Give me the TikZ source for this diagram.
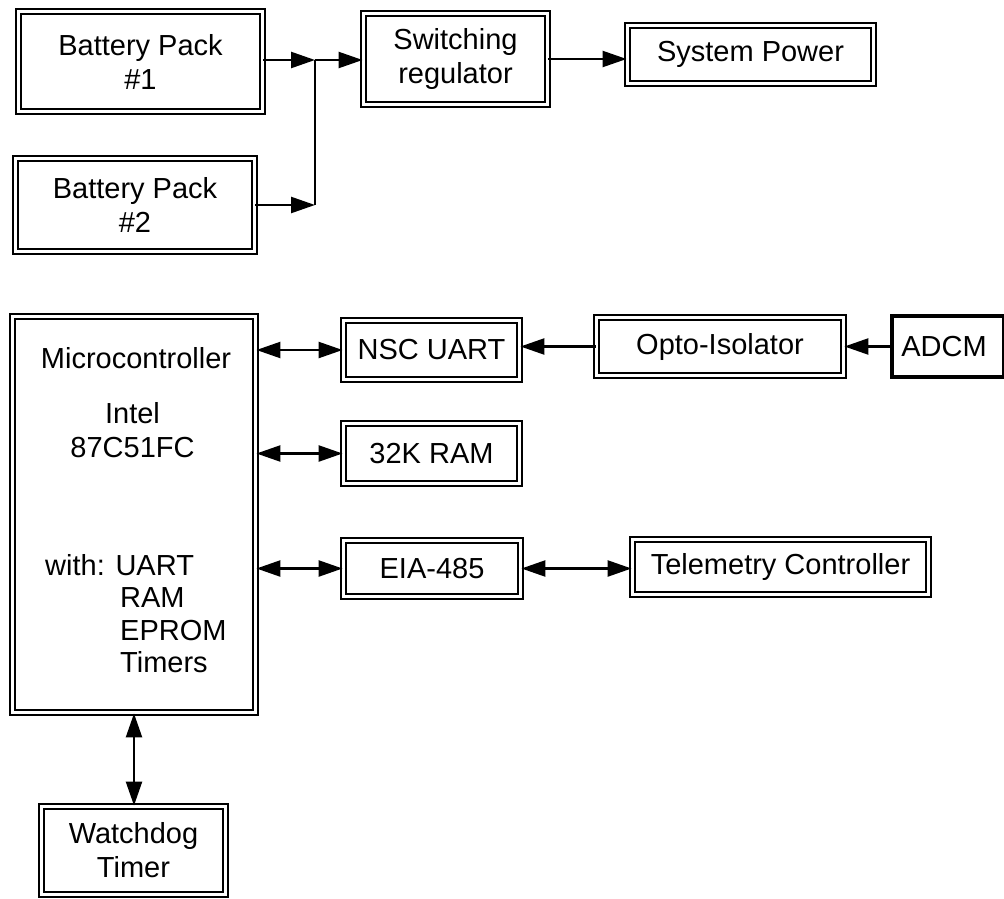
\documentclass[tikz,border=0pt]{standalone}
\usepackage{fontspec}
\setmainfont{Liberation Sans}
\usetikzlibrary{arrows.meta}
\newcommand\blockfont{\fontsize{29}{34}\selectfont}

\begin{document}
\begin{tikzpicture}[x=1pt,y=-1pt,
  box/.style={draw,double,double distance=3.2pt,line width=1.9pt,inner sep=0pt,align=center,font=\blockfont},
  heavybox/.style={draw,line width=4.5pt,inner sep=0pt,align=center,font=\blockfont},
  txt/.style={inner sep=0pt,font=\blockfont},
  link/.style={line width=2.4pt},
  >={Triangle[length=24pt,width=16pt]}]
  \useasboundingbox (0,0) rectangle (1004,899);
  % power section
  \node[box,minimum width=244pt,minimum height=100pt] (bp1) at (140.5,61.5) {Battery Pack\\\#1};
  \node[box,minimum width=239pt,minimum height=93pt] (bp2) at (135,205) {Battery Pack\\\#2};
  \node[box,minimum width=184pt,minimum height=91pt] (sw) at (455.5,59) {Switching\\regulator};
  \node[box,minimum width=246pt,minimum height=58pt] (sys) at (750.5,54.5) {System Power};
  \coordinate (jtop) at (315,60);
  \coordinate (jbot) at (bp2.east -| jtop);
  \draw[link,->] (bp1.east |- jtop) -- (jtop);
  \draw[link,->] (bp2.east) -- (jbot);
  \draw[link] (jtop) -- (jbot);
  \draw[link,->] (jtop) -- (jtop -| sw.west);
  \draw[link,->] (sw.east) -- (sw.east -| sys.west);
  % controller section
  \node[box,minimum width=243pt,minimum height=396pt] (mc) at (134,514.5) {};
  \node[txt,anchor=base] (mcname) at (136,368) {Microcontroller};
  \node[txt,anchor=base] (mcchip) at (132.5,423) {Intel};
  \node[txt,anchor=base] (mcpart) at (132.5,457) {87C51FC};
  \node[txt,anchor=base west] (mcwith) at (45,575) {with: UART};
  \foreach \n/\t/\y in {mcram/RAM/607,mcrom/EPROM/640,mctim/Timers/672}
    \node[txt,anchor=base west] (\n) at (120,\y) {\t};
  \node[box,minimum width=176pt,minimum height=59pt] (uart) at (431.5,350) {NSC UART};
  \node[box,minimum width=247pt,minimum height=58pt] (opto) at (720,346.5) {Opto-Isolator};
  \node[heavybox,minimum width=112pt,minimum height=61pt] (adcm) at (948,346.5) {ADCM\hspace*{8pt}};
  \node[box,minimum width=176pt,minimum height=60pt] (ram) at (431.5,453.5) {32K RAM};
  \node[box,minimum width=177pt,minimum height=56pt] (eia) at (432,568.5) {EIA-485};
  \node[box,minimum width=296pt,minimum height=55pt] (tel) at (780.5,567) {Telemetry Controller};
  \node[box,minimum width=184pt,minimum height=88pt] (wd) at (133.5,850.5) {Watchdog\\Timer};
  \draw[link,<->] (uart.west -| mc.east) -- (uart.west);
  \draw[link,<-] (opto.west -| uart.east) -- (opto.west);
  \draw[link,<-] (opto.east) -- (adcm.west);
  \draw[link,<->] (ram.west -| mc.east) -- (ram.west);
  \draw[link,<->] (eia.west -| mc.east) -- (eia.west);
  \draw[link,<->] (eia.east) -- (eia.east -| tel.west);
  \draw[link,<->] (mc.south) -- (mc.south |- wd.north);
\end{tikzpicture}
\end{document}
